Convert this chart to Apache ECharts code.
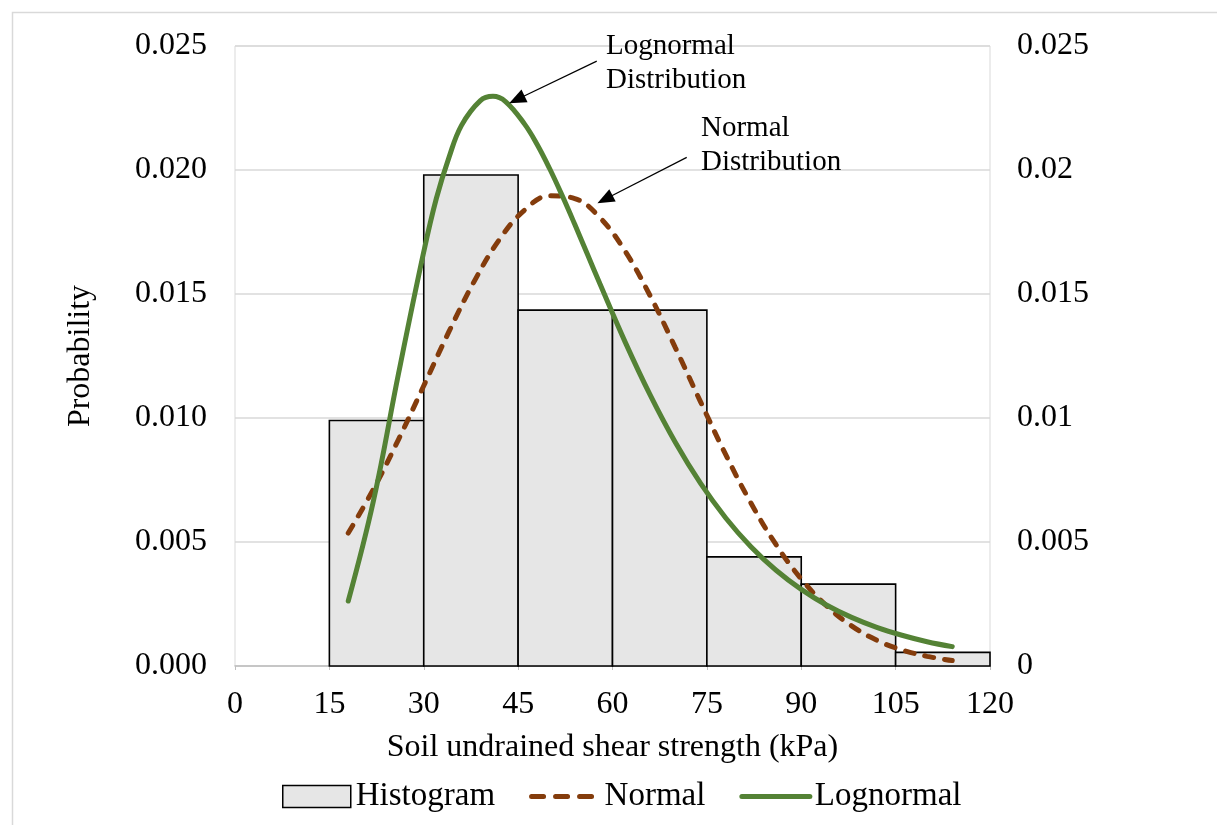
<!DOCTYPE html>
<html>
<head>
<meta charset="utf-8">
<script src="https://cdn.jsdelivr.net/npm/echarts@6/dist/echarts.min.js"></script>
<style>
  html, body { margin: 0; padding: 0; background: #ffffff; }
  #chart { width: 1217px; height: 825px; }
</style>
</head>
<body>
<div id="chart"></div>
<script>
// ---- data ----
const binStart = [15, 30, 45, 60, 75, 90, 105];
const binEnd = [30, 45, 60, 75, 90, 105, 120];
const histDensity = [0.0099, 0.0198, 0.01435, 0.01435, 0.0044, 0.0033, 0.00055];

const normalX = [18, 22, 26, 30, 34, 38, 42, 46, 50, 54, 58, 62, 66, 70, 74, 78, 82, 86, 90, 94, 98, 102, 106, 110, 114];
const normalY = [0.00536, 0.00713, 0.00914, 0.01130, 0.01348, 0.01550, 0.01719, 0.01838, 0.01896, 0.01885, 0.01808, 0.01673, 0.01492, 0.01283, 0.01065, 0.00852, 0.00657, 0.00489, 0.00351, 0.00243, 0.00162, 0.00104, 0.00065, 0.00039, 0.00022];

const lognormalX = [18, 22, 26, 30, 32, 34, 36, 39, 41, 43, 46, 48, 50, 52, 54, 56, 58, 62, 66, 70, 74, 78, 82, 86, 90, 94, 98, 102, 106, 110, 114];
const lognormalY = [0.00262, 0.00665, 0.01180, 0.01670, 0.01885, 0.02050, 0.02180, 0.02280, 0.02297, 0.02276, 0.02186, 0.02104, 0.02006, 0.01897, 0.01781, 0.01661, 0.01541, 0.01307, 0.01092, 0.00901, 0.00736, 0.00597, 0.00481, 0.00386, 0.00309, 0.00246, 0.00196, 0.00156, 0.00124, 0.00098, 0.00078];

const xTicks = { min: 0, max: 120, interval: 15 };
const yTicks = { min: 0, max: 0.025, interval: 0.005 };

// annotation anchors (data coordinates)
const lognormalArrow = { from: [57.5, 0.02439], to: [44.8, 0.02284] };
const normalArrow = { from: [71.8, 0.02051], to: [58.8, 0.01882] };

const FONT = "'Liberation Serif', 'Times New Roman', serif";
const NORMAL_COLOR = '#843c0c';
const LOGNORMAL_COLOR = '#548235';

const histData = binStart.map((s, i) => [s, binEnd[i], histDensity[i]]);
const normalData = normalX.map((x, i) => [x, normalY[i]]);
const lognormalData = lognormalX.map((x, i) => [x, lognormalY[i]]);

const chart = echarts.init(document.getElementById('chart'), null, { renderer: 'canvas' });

const option = {
  animation: false,
  backgroundColor: '#ffffff',
  textStyle: { fontFamily: FONT, color: '#000' },
  grid: {
    left: 235, right: 227, top: 46, height: 620,
    show: true, borderColor: '#d9d9d9', borderWidth: 1
  },
  legend: {
    left: 277, top: 775,
    itemWidth: 68, itemHeight: 22, itemGap: 34,
    textStyle: { fontFamily: FONT, fontSize: 33, color: '#000' },
    data: [
      { name: 'Histogram', icon: 'rect', itemStyle: { color: '#e6e6e6', borderColor: '#000', borderWidth: 1.5 } },
      { name: 'Normal', itemStyle: { opacity: 0 },
        lineStyle: { color: NORMAL_COLOR, width: 5, type: [12, 12], cap: 'round' } },
      { name: 'Lognormal', itemStyle: { opacity: 0 },
        lineStyle: { color: LOGNORMAL_COLOR, width: 5, cap: 'round' } }
    ]
  },
  xAxis: {
    type: 'value',
    min: xTicks.min, max: xTicks.max, interval: xTicks.interval,
    name: 'Soil undrained shear strength (kPa)',
    nameLocation: 'middle', nameGap: 66,
    nameTextStyle: { fontFamily: FONT, fontSize: 32, color: '#000' },
    axisLine: { show: true, lineStyle: { color: '#bfbfbf', width: 1.5 } },
    axisTick: { show: true, length: 4, lineStyle: { color: '#bfbfbf' } },
    axisLabel: { fontFamily: FONT, fontSize: 32, color: '#000', margin: 23 },
    splitLine: { show: false }
  },
  yAxis: [
    {
      type: 'value', position: 'left',
      min: yTicks.min, max: yTicks.max, interval: yTicks.interval,
      name: 'Probability', nameLocation: 'middle', nameGap: 138,
      nameTextStyle: { fontFamily: FONT, fontSize: 32, color: '#000' },
      axisLine: { show: false }, axisTick: { show: false },
      axisLabel: { fontFamily: FONT, fontSize: 32, color: '#000', margin: 28,
        formatter: v => v.toFixed(3) },
      splitLine: { show: true, lineStyle: { color: '#d9d9d9', width: 1.5 } }
    },
    {
      type: 'value', position: 'right',
      min: yTicks.min, max: yTicks.max, interval: yTicks.interval,
      axisLine: { show: false }, axisTick: { show: false },
      axisLabel: { fontFamily: FONT, fontSize: 32, color: '#000', margin: 27,
        formatter: v => String(parseFloat(v.toFixed(3))) },
      splitLine: { show: false }
    }
  ],
  series: [
    {
      name: 'Histogram',
      type: 'custom',
      xAxisIndex: 0, yAxisIndex: 0,
      data: histData,
      itemStyle: { color: '#e6e6e6', borderColor: '#000', borderWidth: 1.5 },
      encode: { x: [0, 1], y: 2 },
      renderItem: function (params, api) {
        const p0 = api.coord([api.value(0), api.value(2)]);
        const p1 = api.coord([api.value(1), 0]);
        return {
          type: 'rect',
          shape: { x: p0[0], y: p0[1], width: p1[0] - p0[0], height: p1[1] - p0[1] },
          style: { fill: '#e6e6e6', stroke: '#000', lineWidth: 1.6 }
        };
      },
      z: 1
    },
    {
      name: 'Normal',
      type: 'line',
      data: normalData,
      smooth: 0.4,
      symbol: 'none',
      itemStyle: { color: NORMAL_COLOR },
      lineStyle: { color: NORMAL_COLOR, width: 5, type: [9, 11], cap: 'round' },
      markLine: {
        silent: true, symbol: ['none', 'triangle'], symbolSize: [14, 17],
        label: { show: false },
        lineStyle: { color: '#000', width: 1.2, type: 'solid' },
        data: [[{ coord: normalArrow.from }, { coord: normalArrow.to }]]
      },
      z: 3
    },
    {
      name: 'Lognormal',
      type: 'line',
      data: lognormalData,
      smooth: 0.4,
      symbol: 'none',
      itemStyle: { color: LOGNORMAL_COLOR },
      lineStyle: { color: LOGNORMAL_COLOR, width: 5, cap: 'round' },
      markLine: {
        silent: true, symbol: ['none', 'triangle'], symbolSize: [14, 17],
        label: { show: false },
        lineStyle: { color: '#000', width: 1.2, type: 'solid' },
        data: [[{ coord: lognormalArrow.from }, { coord: lognormalArrow.to }]]
      },
      z: 4
    }
  ],
  graphic: [
    { type: 'rect', left: 10, top: 10, silent: true, z: -10,
      shape: { width: 1230, height: 840 },
      style: { fill: 'none', stroke: '#d9d9d9', lineWidth: 1.5 } },
    { type: 'text', left: 606, top: 29, silent: true, z: 10,
      style: { text: 'Lognormal\nDistribution', font: "29px " + FONT, fill: '#000', lineHeight: 34 } },
    { type: 'text', left: 701, top: 111, silent: true, z: 10,
      style: { text: 'Normal\nDistribution', font: "29px " + FONT, fill: '#000', lineHeight: 34 } }
  ]
};

chart.setOption(option);
</script>
</body>
</html>
